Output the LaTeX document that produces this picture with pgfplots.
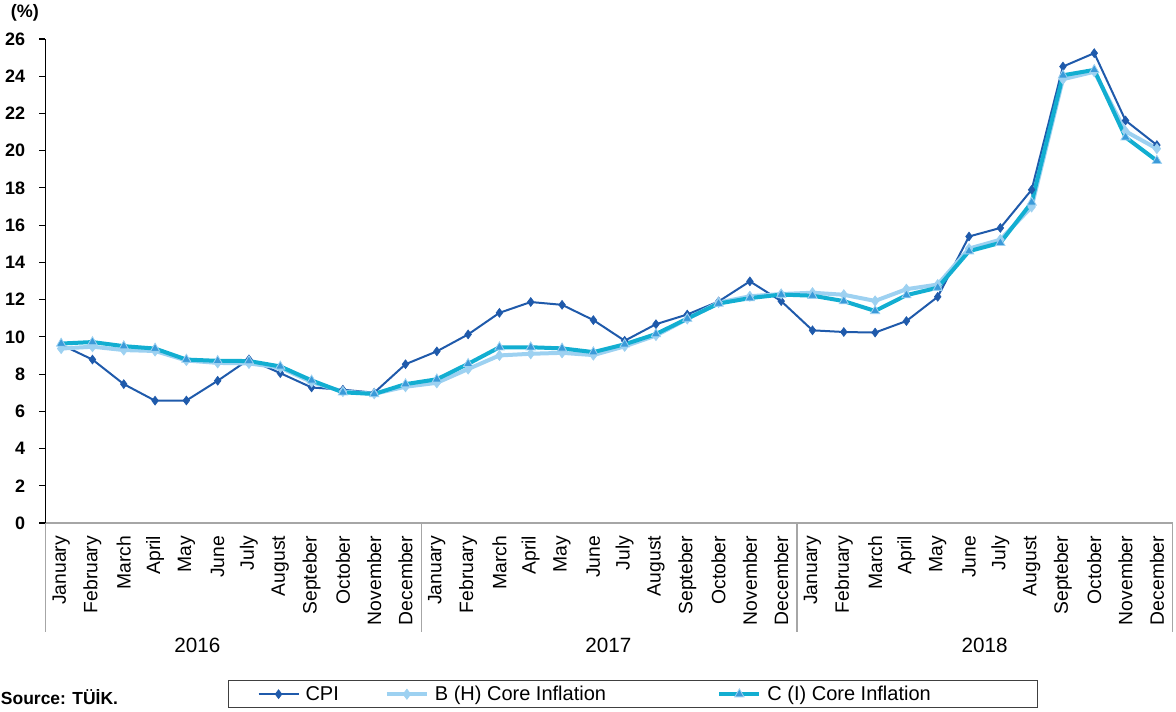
\documentclass[border=0pt]{standalone}
\usepackage{pgfplots}
\pgfplotsset{compat=1.18}
\usepackage{pgfplotstable}
\usepackage{fontspec}
\setmainfont{Liberation Sans}
\definecolor{cpi}{HTML}{1F5AAB}
\definecolor{bcore}{HTML}{9DD1F1}
\definecolor{ccore}{HTML}{12AED1}
\definecolor{cmark}{HTML}{3A9AD9}
\definecolor{axgray}{HTML}{A6A6A6}

\pgfplotstableread{
x cpi b c
0 9.58 9.37 9.64
1 8.78 9.47 9.72
2 7.46 9.29 9.50
3 6.57 9.24 9.37
4 6.58 8.73 8.78
5 7.64 8.60 8.71
6 8.79 8.57 8.70
7 8.05 8.35 8.41
8 7.28 7.57 7.66
9 7.16 7.06 7.02
10 7.00 6.94 6.93
11 8.53 7.32 7.46
12 9.22 7.53 7.72
13 10.13 8.27 8.55
14 11.29 9.00 9.44
15 11.87 9.09 9.44
16 11.72 9.14 9.38
17 10.90 9.02 9.18
18 9.79 9.49 9.60
19 10.68 10.07 10.15
20 11.20 10.96 10.98
21 11.90 11.84 11.79
22 12.98 12.18 12.08
23 11.92 12.30 12.27
24 10.35 12.37 12.21
25 10.26 12.26 11.92
26 10.23 11.93 11.39
27 10.85 12.56 12.24
28 12.15 12.81 12.64
29 15.39 14.74 14.60
30 15.85 15.22 15.05
31 17.90 16.98 17.22
32 24.52 23.84 24.05
33 25.24 24.24 24.34
34 21.62 21.04 20.72
35 20.30 20.11 19.46
}\data

\begin{document}
\begin{tikzpicture}
\useasboundingbox (-34.125pt,-141.75pt) rectangle (847.875pt,392.25pt);
\begin{axis}[
  at={(0pt,0pt)}, anchor=south west,
  scale only axis, width=845.25pt, height=363pt,
  xmin=-0.5, xmax=35.5, ymin=0, ymax=26,
  clip=false,
  axis x line*=bottom, axis y line*=left,
  x axis line style={axgray, line width=1pt},
  y axis line style={black, line width=1pt},
  ytick={0,2,...,26},
  xtick={0,...,35},
  xticklabels={January,February,March,April,May,June,July,August,Septeber,October,November,December,
               January,February,March,April,May,June,July,August,Septeber,October,November,December,
               January,February,March,April,May,June,July,August,Septeber,October,November,December},
  xtick style={draw=none},
  ytick style={black, line width=0.8pt},
  tick align=outside,
  major tick length=4.5pt,
  /pgf/number format/assume math mode=true,
  yticklabel style={font=\bfseries\fontsize{13.5}{16}\selectfont, inner sep=0pt, xshift=-10.5pt},
  xticklabel style={font=\fontsize{14.5}{17}\selectfont, rotate=90, anchor=east, inner xsep=5pt, inner ysep=0pt},
  legend columns=3,
  legend image code/.code={\draw[mark repeat=2,mark phase=2,#1] plot coordinates {(0pt,0pt) (15pt,0pt) (30pt,0pt)};},
  legend style={at={(0.1619,-0.3244)}, anchor=north west, draw=black!75, line width=0.9pt,
    font=\fontsize{15}{18}\selectfont, inner xsep=21.75pt, inner ysep=4pt,
    nodes={inner sep=0pt},
    /tikz/every odd column/.append style={column sep=4.5pt},
    /tikz/every even column/.append style={column sep=0pt}},
]
\addplot[cpi, line width=1.5pt, mark=diamond*, mark size=3.3pt, mark options={fill=cpi, draw=cpi, line width=0.5pt}] table[x=x, y=cpi] {\data};
\addlegendentry{CPI\rule{34.5pt}{0pt}}
\addplot[bcore, line width=3pt, mark=diamond*, mark size=3.8pt, mark options={fill=bcore, draw=bcore, line width=0.5pt}] table[x=x, y=b] {\data};
\addlegendentry{B (H) Core Inflation\rule{83.5pt}{0pt}}
\addplot[ccore, line width=3pt, mark=triangle*, mark size=4pt, mark options={fill=cmark, draw=bcore, line width=0.6pt}] table[x=x, y=c] {\data};
\addlegendentry{C (I) Core Inflation\rule{58pt}{0pt}}

\draw[axgray, line width=1pt] (axis cs:-0.5,0) -- ++(0pt,-81.75pt);
\draw[axgray, line width=1pt] (axis cs:11.5,0) -- ++(0pt,-81.75pt);
\draw[axgray, line width=1pt] (axis cs:23.5,0) -- ++(0pt,-81.75pt);
\draw[axgray, line width=1pt] (axis cs:35.5,0) -- ++(0pt,-81.75pt);
\node[font=\fontsize{15.5}{18}\selectfont] at (axis cs:4.35,0) [yshift=-91.5pt] {2016};
\node[font=\fontsize{15.5}{18}\selectfont] at (axis cs:17.48,0) [yshift=-91.5pt] {2017};
\node[font=\fontsize{15.5}{18}\selectfont] at (axis cs:29.5,0) [yshift=-91.5pt] {2018};
\node[font=\bfseries\fontsize{13.5}{16}\selectfont] at (rel axis cs:0,1) [xshift=-15.4pt, yshift=19.5pt] {(\%)};
\node[font=\bfseries\fontsize{13.1}{16}\selectfont, anchor=west, inner sep=0pt] at (rel axis cs:0,0) [xshift=-33.6pt, yshift=-130.5pt] {Source: TÜİK.};
\end{axis}
\end{tikzpicture}
\end{document}
